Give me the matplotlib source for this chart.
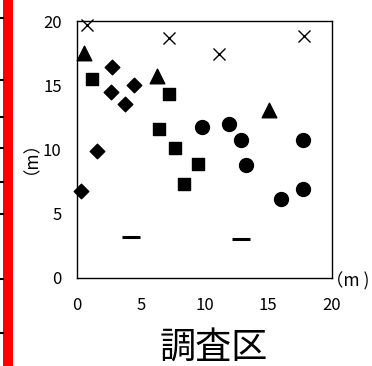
import matplotlib
matplotlib.use("Agg")
import matplotlib.pyplot as plt
from matplotlib.lines import Line2D
from matplotlib.patches import Rectangle

plt.rcParams['font.family'] = ['Noto Sans CJK JP', 'DejaVu Sans']

# data (m)
cross_x = [0.8, 7.2, 11.1, 17.8]
cross_y = [19.7, 18.65, 17.4, 18.8]
tri_x = [0.55, 6.25, 15.05]
tri_y = [17.5, 15.7, 13.1]
sq_x = [1.2, 7.25, 6.45, 7.7, 9.5, 8.4]
sq_y = [15.5, 14.3, 11.6, 10.1, 8.85, 7.35]
dia_x = [2.75, 4.5, 2.65, 3.75, 1.55, 0.3]
dia_y = [16.4, 15.0, 14.45, 13.55, 9.85, 6.8]
cir_x = [9.8, 11.95, 12.85, 13.25, 16.0, 17.7, 17.7]
cir_y = [11.75, 11.95, 10.75, 8.8, 6.15, 10.75, 6.9]
dash_x = [4.25, 12.9]
dash_y = [3.2, 3.0]
xticks = [0, 5, 10, 15, 20]
yticks = [0, 5, 10, 15, 20]

W, H = 372, 366
fig = plt.figure(figsize=(W / 100, H / 100), dpi=100)
ax = fig.add_axes([77 / W, 1 - 278 / H, (332 - 77) / W, (278 - 21) / H])

ax.scatter(cross_x, cross_y, marker='x', s=75, c='black', linewidths=1.0, clip_on=False, zorder=3)
ax.scatter(tri_x, tri_y, marker='^', s=110, c='black', clip_on=False, zorder=3)
ax.scatter(sq_x, sq_y, marker='s', s=85, c='black', clip_on=False, zorder=3)
ax.scatter(dia_x, dia_y, marker='D', s=55, c='black', clip_on=False, zorder=3)
ax.scatter(cir_x, cir_y, marker='o', s=100, c='black', clip_on=False, zorder=3)
ax.scatter(dash_x, dash_y, marker='_', s=150, c='black', linewidths=2.2, clip_on=False, zorder=3)

ax.set_xlim(0, 20)
ax.set_ylim(0, 20)
ax.set_xticks(xticks)
ax.set_yticks(yticks)
ax.tick_params(axis='both', length=0, labelsize=12, colors='black')
ax.tick_params(axis='y', pad=11)
ax.tick_params(axis='x', pad=14)
for s in ax.spines.values():
    s.set_linewidth(1.0)
    s.set_color('black')

fig.text(326 / W, 1 - 281 / H, '（m )', fontsize=12.5, ha='left', va='center')
fig.text(22 / W, 1 - 149 / H, '（m）', fontsize=12.5, ha='center', va='center', rotation=90)
fig.text(214 / W, 1 - 348 / H, '調査区', fontsize=26, ha='center', va='center')

# red bar at left edge with small black marks
fig.add_artist(Rectangle((3 / W, 0), 10 / W, 1, transform=fig.transFigure,
                         facecolor='#ff0000', edgecolor='none'))
for yy in [18, 80, 117, 148, 182, 214, 279, 333]:
    fig.add_artist(Line2D([0, 3 / W], [1 - yy / H, 1 - yy / H], transform=fig.transFigure,
                          color='black', linewidth=1.5))

fig.savefig('out.png', dpi=100)
